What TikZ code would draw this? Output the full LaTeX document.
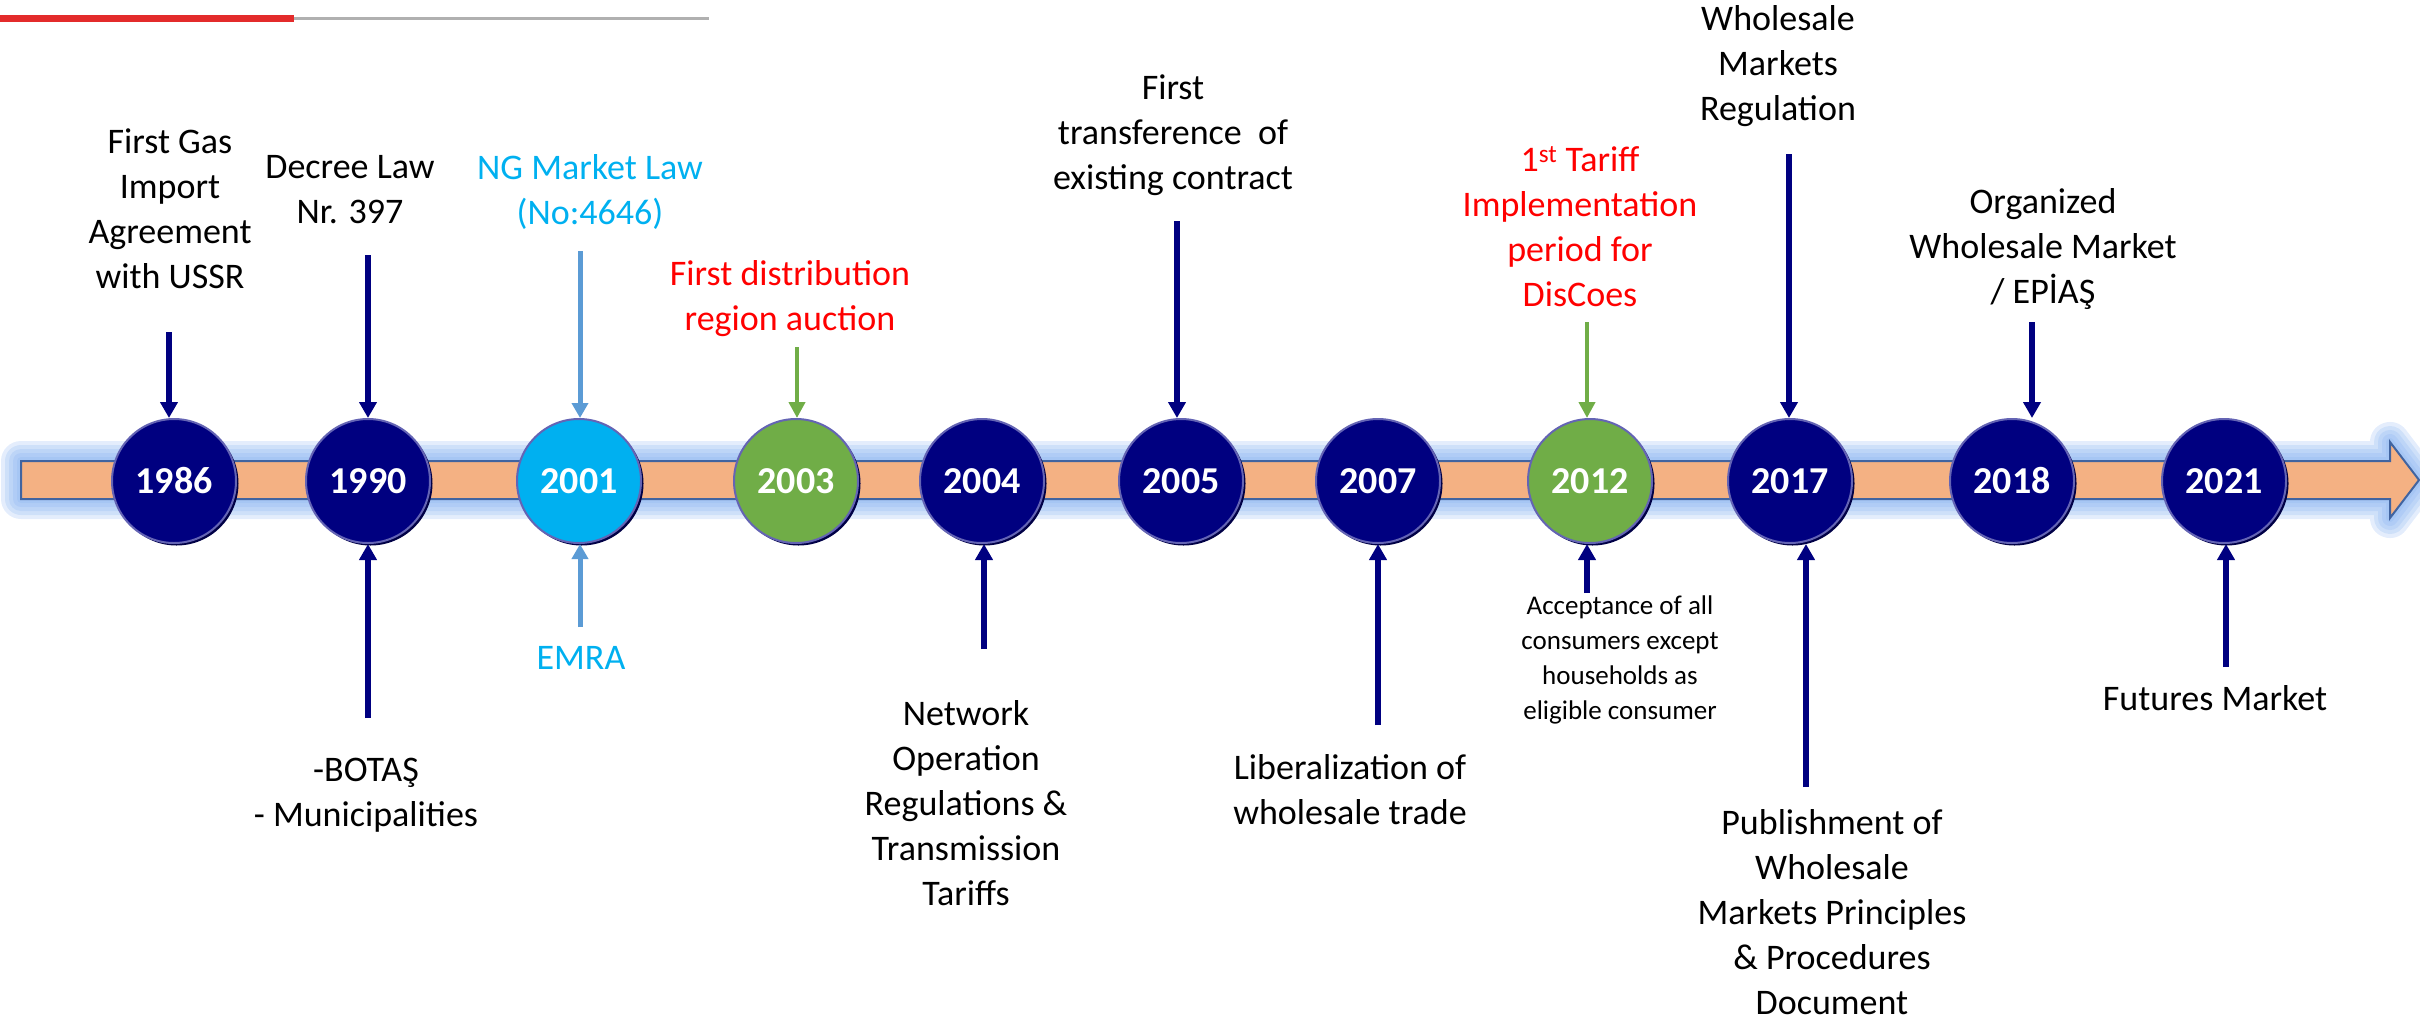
\documentclass[tikz,border=0pt]{standalone}
\usepackage{fontspec}
\setmainfont{Carlito}
\usetikzlibrary{arrows.meta}
\definecolor{navy}{RGB}{0,0,128}
\definecolor{navyshadow}{RGB}{0,0,70}
\definecolor{cedge}{RGB}{100,100,180}
\definecolor{cyanfill}{RGB}{0,176,240}
\definecolor{cyantext}{RGB}{0,176,240}
\definecolor{arrcyan}{RGB}{91,155,213}
\definecolor{greenfill}{RGB}{112,173,71}
\definecolor{redtext}{RGB}{255,0,0}
\definecolor{barfill}{RGB}{244,177,131}
\definecolor{baredge}{RGB}{65,100,160}
\definecolor{glow}{RGB}{130,175,240}
\definecolor{topred}{RGB}{227,43,43}
\definecolor{topgray}{RGB}{176,176,176}
\begin{document}
\begin{tikzpicture}[x=1pt,y=-1pt,
  lbl/.style={font=\fontsize{36}{45}\selectfont, align=center, inner sep=0pt},
  small/.style={font=\fontsize{27}{35}\selectfont, align=center, inner sep=0pt},
  yearc/.style={circle, minimum size=124pt, inner sep=0pt, draw=cedge, line width=2pt,
     text=white, font=\fontsize{38}{40}\selectfont\bfseries},
  arr/.style={line width=5.5pt, draw=navy, -{Triangle[width=17pt,length=16pt]}},
  arrc/.style={line width=5pt, draw=arrcyan, -{Triangle[width=16pt,length=15pt]}},
  arrg/.style={line width=4.5pt, draw=greenfill, -{Triangle[width=16pt,length=16pt]}}
]
\useasboundingbox (0,0) rectangle (2420,1021);
% top decoration
\fill[topred] (0,15) rectangle (294,22);
\fill[topgray] (294,17) rectangle (709,20);
% bar with glow
\def\barpath{(21,461) -- (2390,461) -- (2390,442) -- (2419,480) -- (2390,518) -- (2390,499) -- (21,499) -- cycle}
\foreach \w in {40,32,24,16,8}
  \draw[glow, opacity=0.22, line width=\w pt, line join=round] \barpath;
\fill[barfill] \barpath;
\draw[baredge, line width=2pt] \barpath;
% circles
\foreach \yr/\x/\col in {1986/174/navy, 1990/368/navy, 2001/579/cyanfill, 2003/796/greenfill,
   2004/982/navy, 2005/1181/navy, 2007/1378/navy, 2012/1590/greenfill, 2017/1790/navy,
   2018/2012/navy, 2021/2224/navy} {
  \fill[navyshadow] (\x+2.5,483.5) circle (62);
  \node[yearc, fill=\col] (c\yr) at (\x,481) {\yr};
}
% top labels
\node[lbl] (t1986) at (170,209) {First Gas\\Import\\Agreement\\with USSR};
\node[lbl] (t1990) at (350,190) {Decree Law\\Nr. 397};
\node[lbl, text=cyantext] (t2001) at (590,192) {NG Market Law\\(No:4646)};
\node[lbl, text=redtext] (t2003) at (790,299) {First distribution\\region auction};
\node[lbl] (t2005) at (1173,135) {First\\transference\ \ of\\existing contract};
\node[lbl, text=redtext] (t2012) at (1580,227) {1\textsuperscript{st} Tariff\\Implementation\\period for\\DisCoes};
\node[lbl] (t2017) at (1778,66) {Wholesale\\Markets\\Regulation};
\node[lbl] (t2018) at (2043,249) {Organized\\Wholesale Market\\/ EP\.{I}AŞ};
% bottom labels
\node[lbl] (b1990) at (366,795) {-BOTAŞ\\- Municipalities};
\node[lbl, text=cyantext] (b2001) at (581,658) {EMRA};
\node[lbl] (b2004) at (966,803) {Network\\Operation\\Regulations \&\\Transmission\\Tariffs};
\node[lbl] (b2007) at (1350,790) {Liberalization of\\wholesale trade};
\node[small] (b2012) at (1620,660) {Acceptance of all\\consumers except\\households as\\eligible consumer};
\node[lbl] (b2017) at (1832,912) {Publishment of\\Wholesale\\Markets Principles\\\& Procedures\\Document};
\node[lbl] (b2021) at (2215,698) {Futures Market};
% arrow start coordinates
\coordinate (s1986) at (169,332);
\coordinate (s1990) at (368,255);
\coordinate (s2001) at (580,251);
\coordinate (s2003) at (797,347);
\coordinate (s2005) at (1177,221);
\coordinate (s2012) at (1587,322);
\coordinate (s2017) at (1789,154);
\coordinate (s2018) at (2032,322);
\coordinate (u1990) at (368,718);
\coordinate (u2001) at (580,627);
\coordinate (u2004) at (984,649);
\coordinate (u2007) at (1378,725);
\coordinate (u2012) at (1587,593);
\coordinate (u2017) at (1806,787);
\coordinate (u2021) at (2226,667);
% down arrows
\draw[arr] (s1986) -- (s1986 |- c1986.north);
\draw[arr] (s1990) -- (s1990 |- c1990.north);
\draw[arrc] (s2001) -- (s2001 |- c2001.north);
\draw[arrg] (s2003) -- (s2003 |- c2003.north);
\draw[arr] (s2005) -- (s2005 |- c2005.north);
\draw[arrg] (s2012) -- (s2012 |- c2012.north);
\draw[arr] (s2017) -- (s2017 |- c2017.north);
\draw[arr] (s2018) -- (s2018 |- c2018.north);
% up arrows
\draw[arr] (u1990) -- (u1990 |- c1990.south);
\draw[arrc] (u2001) -- (u2001 |- c2001.south);
\draw[arr] (u2004) -- (u2004 |- c2004.south);
\draw[arr] (u2007) -- (u2007 |- c2007.south);
\draw[arr] (u2012) -- (u2012 |- c2012.south);
\draw[arr] (u2017) -- (u2017 |- c2017.south);
\draw[arr] (u2021) -- (u2021 |- c2021.south);
\end{tikzpicture}
\end{document}
